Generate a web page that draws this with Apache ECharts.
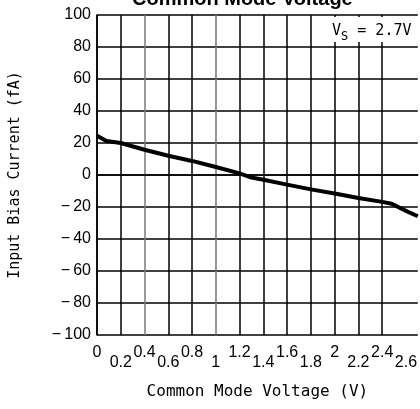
<!DOCTYPE html>
<html>
<head>
<meta charset="utf-8">
<script src="https://cdn.jsdelivr.net/npm/echarts@6/dist/echarts.min.js"></script>
<style>html,body{margin:0;padding:0;background:#fff}#c{width:420px;height:409px}</style>
</head>
<body>
<div id="c"></div>
<script>
var voltage = [0, 0.08, 0.2, 0.4, 0.6, 0.8, 1.0, 1.2, 1.3, 1.4, 1.6, 1.8, 2.0, 2.2, 2.4, 2.48, 2.6, 2.7];
var biasCurrent = [24.5, 21.2, 20, 15.8, 12, 8.8, 5, 1, -1.6, -3, -6, -9, -11.6, -14.4, -16.8, -18, -22.4, -25.8];
var xTickLabels = ['0','0.2','0.4','0.6','0.8','1','1.2','1.4','1.6','1.8','2','2.2','2.4','2.6',''];
var yTickLabels = ['\u2212\u2009100','\u2212\u200980','\u2212\u200960','\u2212\u200940','\u2212\u200920','0','20','40','60','80','100'];

var vLineColors = ['#000','#000','#777','#000','#000','#777','#000','#000','#000','#000','#000','#000','#000','rgba(0,0,0,0)','rgba(0,0,0,0)'];

var chart = echarts.init(document.getElementById('c'), null, {renderer: 'canvas'});
chart.setOption({
  animation: false,
  backgroundColor: '#fff',
  title: {
    text: 'Common Mode Voltage',
    left: 127, top: -16,
    textStyle: {fontFamily: 'Liberation Sans', fontWeight: 'bold', fontSize: 20, color: '#000'}
  },
  grid: {left: 96, top: 15, bottom: 74, right: 0},
  xAxis: {
    type: 'value', min: 0, max: 2.7, interval: 0.2,
    name: 'Common Mode Voltage (V)', nameLocation: 'middle', nameGap: 49,
    nameTextStyle: {fontFamily: 'DejaVu Sans Mono', fontSize: 16, color: '#000'},
    axisLine: {show: true, lineStyle: {color: '#000', width: 1.5}},
    axisTick: {show: false},
    splitLine: {show: true, lineStyle: {color: vLineColors, width: 1.5}},
    axisLabel: {
      margin: 11,
      showMaxLabel: false,
      formatter: function (v, i) {
        var idx = Math.round(v / 0.2);
        return (idx % 2 === 0 ? '{a|' : '{b|') + xTickLabels[idx] + '}';
      },
      rich: {
        a: {fontFamily: 'Liberation Sans', fontSize: 16, color: '#000', lineHeight: 14},
        b: {fontFamily: 'Liberation Sans', fontSize: 16, color: '#000', lineHeight: 14, padding: [20, 0, 0, 0]}
      }
    }
  },
  yAxis: {
    type: 'value', min: -100, max: 100, interval: 20,
    name: 'Input Bias Current (fA)', nameLocation: 'middle', nameGap: 74, nameRotate: 90,
    nameTextStyle: {fontFamily: 'DejaVu Sans Mono', fontSize: 15, color: '#000'},
    axisLine: {show: true, lineStyle: {color: '#000', width: 1.5}},
    axisTick: {show: false},
    splitLine: {show: true, lineStyle: {color: '#000', width: 1.5}},
    axisLabel: {
      margin: 6,
      fontFamily: 'Liberation Sans', fontSize: 16, color: '#000',
      formatter: function (v) { return yTickLabels[Math.round((v + 100) / 20)]; }
    }
  },
  graphic: [{
    type: 'text',
    left: 322, top: 17,
    z: 100,
    style: {
      text: '{v|V}{s|S}{v| = 2.7V}',
      backgroundColor: '#fff',
      padding: [2, 10, 3, 10],
      rich: {
        v: {fontFamily: 'DejaVu Sans Mono', fontSize: 15, fill: '#000', verticalAlign: 'bottom', lineHeight: 20},
        s: {fontFamily: 'DejaVu Sans Mono', fontSize: 12, fill: '#000', verticalAlign: 'bottom', padding: [0, 0, -4, 0], lineHeight: 16}
      }
    }
  }],
  series: [{
    type: 'line',
    data: voltage.map(function (x, i) { return [x, biasCurrent[i]]; }),
    showSymbol: false,
    lineStyle: {color: '#000', width: 4},
    clip: true
  }]
});
</script>
</body>
</html>
